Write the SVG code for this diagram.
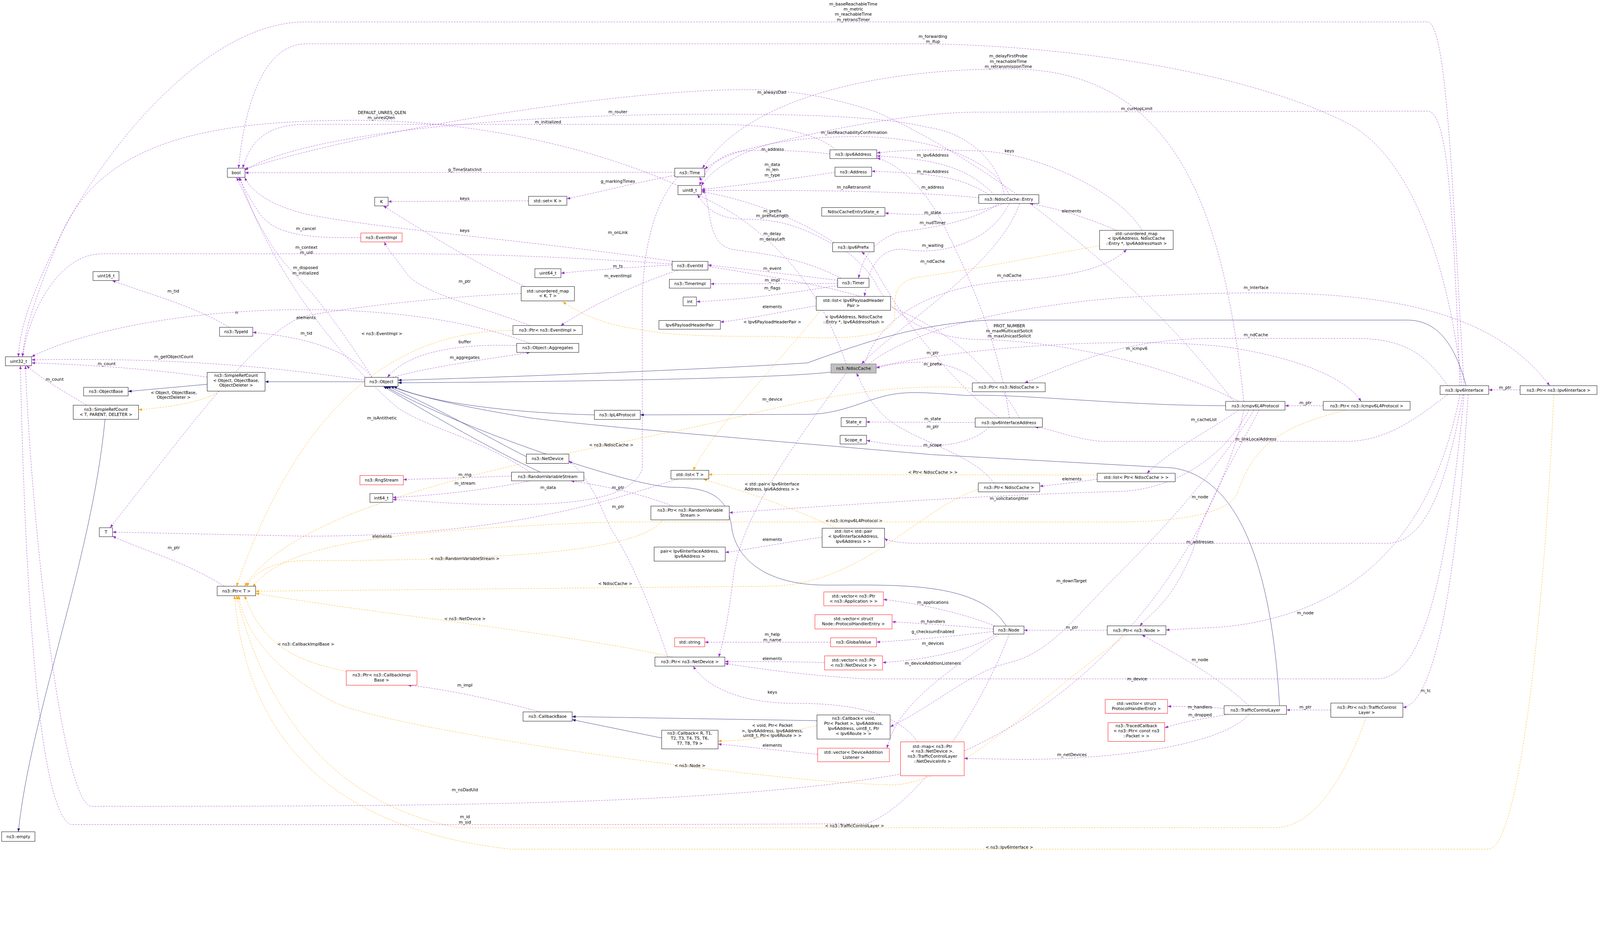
<svg xmlns="http://www.w3.org/2000/svg" width="4565" height="2435" viewBox="0 0 4565 2435">
<defs>
<style>
.n rect{fill:#fff;stroke:#000;stroke-width:0.35}
.n.r rect{stroke:#ff0000}
.n.g rect{fill:#bfbfbf;stroke:#666}
text{font-family:"DejaVu Sans","Liberation Sans",sans-serif;font-size:4.1px;fill:#000;text-anchor:middle}
.e path{fill:none;stroke-width:0.3}
.p{stroke:#9a32cd;stroke-dasharray:1.6,1.1;marker-end:url(#ap)}
.o{stroke:#ffa500;stroke-dasharray:1.6,1.1;marker-end:url(#ao)}
.i{stroke:#191970;marker-end:url(#ai)}
</style>
<marker id="ap" viewBox="0 0 10 10" refX="10" refY="5" markerUnits="userSpaceOnUse" markerWidth="3.4" markerHeight="2.6" orient="auto" preserveAspectRatio="none"><path d="M0,0L10,5L0,10z" fill="#9a32cd"/></marker>
<marker id="ao" viewBox="0 0 10 10" refX="10" refY="5" markerUnits="userSpaceOnUse" markerWidth="3.4" markerHeight="2.6" orient="auto" preserveAspectRatio="none"><path d="M0,0L10,5L0,10z" fill="#ffa500"/></marker>
<marker id="ai" viewBox="0 0 10 10" refX="10" refY="5" markerUnits="userSpaceOnUse" markerWidth="3.4" markerHeight="2.6" orient="auto" preserveAspectRatio="none"><path d="M0,0L10,5L0,10z" fill="#191970"/></marker>
</defs>
<rect width="4565" height="2435" fill="#fff"/>
<g transform="scale(2.61)">
<g id="connectors" class="e">
<path class="i" d="M357.8,374.5L260,374.5"/>
<path class="i" d="M203.2,377L125.7,384"/>
<path class="i" d="M103,411.4C90,550 30,700 18,816"/>
<path class="i" d="M815,365C760,372 500,375 390.4,375.5"/>
<path class="i" d="M1438,378.4C1425,330 1405,314 1380,314L970,314C900,318 850,335 792,356C700,362 500,370 390.4,373"/>
<path class="i" d="M583,407C500,405 420,395 386,379"/>
<path class="i" d="M1202.2,398C1100,398 1000,386 948,388C920,386 900,384 881,386C850,390 830,406 792,406.5L628,407"/>
<path class="i" d="M516.3,448C480,430 430,400 380,379"/>
<path class="i" d="M530,463.2C480,440 420,405 376,379"/>
<path class="i" d="M987,614.2C960,570 880,574 810,574C760,574 725,555 718,520C715,490 700,478 660,478C620,478 450,420 378,379"/>
<path class="i" d="M1255,692.3C1250,600 1230,470 1150,459L914,446C800,436 600,420 520,410C460,400 420,392 383,379"/>
<path class="i" d="M801.3,707L561.2,703"/>
<path class="i" d="M649,724L561.2,706"/>
<path class="o" d="M215,383.7C200,395 160,400 135.9,402"/>
<path class="o" d="M503.1,324C400,325 300,380 232,575.1"/>
<path class="o" d="M1078.5,241C1000,255 950,265 900,272C870,278 880,300 877,315C870,335 800,332 760,330C700,330 660,330 620,322C590,318 565,305 552,296"/>
<path class="o" d="M805,304.4C760,360 700,420 680,461.4"/>
<path class="o" d="M1076.2,466L695.2,465.5"/>
<path class="o" d="M820,518.2C760,490 720,480 690,469.9"/>
<path class="o" d="M953.7,381C880,375 800,390 720,410C600,440 300,480 240,575.1"/>
<path class="o" d="M959.5,480C900,500 850,570 760,575L250.8,580"/>
<path class="o" d="M650,510C630,540 500,550 300,550C270,550 250,560 242,575.1"/>
<path class="o" d="M1320,402.3C1250,420 1230,440 1215,480C1210,505 1150,512 1100,512L600,512C400,520 280,530 248,576"/>
<path class="o" d="M660,644.6C550,620 350,600 250.8,582"/>
<path class="o" d="M345,660C300,650 260,640 240,584.4"/>
<path class="o" d="M1105,622.7C1000,700 950,760 880,770C780,770 400,720 330,690C270,660 240,620 234,584.4"/>
<path class="o" d="M1340,703.7C1320,760 1290,812 1250,812L450,812C330,790 260,700 232,584.4"/>
<path class="o" d="M1524,387C1515,600 1490,833 1460,833L500,833C300,810 240,700 230,584.4"/>
<path class="o" d="M801.3,712C760,720 740,727 704.3,727"/>
<path class="p" d="M1436,378.4C1425,200 1420,21.5 1400,21.5L300,21.5C200,21.5 100,150 60,230C30,290 20,320 18,350"/>
<path class="p" d="M1434,378.4C1420,250 1380,150 1320,120C1200,60 1000,43 900,43L300,43C260,43 240,100 234,165"/>
<path class="p" d="M1220,393.8C1200,200 1150,67.6 990,67.6C850,67.6 730,100 689,165"/>
<path class="p" d="M1210,393.8C1100,250 950,150 860,110C800,90 760,88 730,88C600,88 350,130 240,166"/>
<path class="p" d="M985,191C980,160 950,130 910,125C870,115 800,112 700,112C500,112 300,130 240,167"/>
<path class="p" d="M820,147C800,130 760,122 700,122L300,122C260,122 245,140 238,165"/>
<path class="p" d="M830,357C810,300 780,250 720,210C600,140 450,118 350,118C200,118 100,140 60,230C35,290 25,320 22,350"/>
<path class="p" d="M1432,378.4C1425,200 1420,109 1400,109L960,110C900,110 820,125 760,140C720,150 695,170 688,182"/>
<path class="p" d="M990,191C970,150 900,134 840,134C760,134 710,150 691.2,166"/>
<path class="p" d="M814,151C790,148 760,147 730,148C705,150 693,165 686,182"/>
<path class="p" d="M1120,226C1100,190 1020,150 960,148C900,146 880,148 860,150"/>
<path class="p" d="M975,191C950,165 920,156 860,153"/>
<path class="p" d="M970,191C945,175 920,170 855,168"/>
<path class="p" d="M819,169C780,175 740,180 688,186"/>
<path class="p" d="M960,194C900,188 800,186 688,187"/>
<path class="p" d="M990,410C980,330 940,250 930,230C910,185 880,160 860,155"/>
<path class="p" d="M985,199.6C960,210 900,212 868,209"/>
<path class="p" d="M1095,226C1070,215 1040,205 1010,199.6"/>
<path class="p" d="M980,199.6C950,220 900,225 880,228C850,240 845,260 842,273"/>
<path class="p" d="M990,199.6C970,240 920,250 890,245C860,240 850,270 848,290.8"/>
<path class="p" d="M1000,199.6C980,260 880,320 845,357"/>
<path class="p" d="M848,357C860,320 900,280 1000,275C1060,270 1090,260 1105,244.8"/>
<path class="p" d="M818,240C790,225 770,215 730,215C700,215 690,200 684,191"/>
<path class="p" d="M825,273C790,255 760,250 720,245C690,240 700,200 686,173.5"/>
<path class="p" d="M822,275C780,270 740,265 694.4,260"/>
<path class="p" d="M821.6,278L697,278.5"/>
<path class="p" d="M822,280C780,287 730,294 683.1,296"/>
<path class="p" d="M800.6,300C770,305 740,312 706.6,316"/>
<path class="p" d="M980,410C940,380 900,330 880,300C860,270 855,255 845,247"/>
<path class="p" d="M960,375.6C940,355 900,350 859.4,361"/>
<path class="p" d="M956.5,414.5L849.6,414"/>
<path class="p" d="M970,419C950,440 900,442 850,432"/>
<path class="p" d="M975,473.8C950,440 880,430 860,400C850,390 845,375 840,366"/>
<path class="p" d="M830,366C790,420 730,500 720,560C715,600 712,620 705,644.6"/>
<path class="p" d="M859.4,360C950,340 1100,330 1200,340C1270,350 1320,370 1335,393.8"/>
<path class="p" d="M1420,378.4C1400,350 1380,332 1330,332L1180,332C1100,335 1070,350 1005,375.6"/>
<path class="p" d="M852,357C900,320 1000,300 1100,292C1300,280 1450,285 1520,378.4"/>
<path class="p" d="M1491,382.5L1460.2,382.5"/>
<path class="p" d="M1297.9,398L1260.4,398"/>
<path class="p" d="M1215,402.3C1190,420 1150,440 1125,464.3"/>
<path class="p" d="M1076.2,470C1050,474 1030,476 1019.8,477"/>
<path class="p" d="M1225,402.3C1200,450 1150,480 1100,482C1000,485 900,490 715.3,503"/>
<path class="p" d="M1235,402.3C1210,450 1180,500 1170,540C1150,590 1130,600 1118,614"/>
<path class="p" d="M1230,402.3C1200,450 1160,500 1100,560C1050,610 1030,640 990,650C950,660 920,690 873.1,713"/>
<path class="p" d="M1435,387C1420,470 1400,533 1360,533L900,533C880,533 870,530 867.6,528"/>
<path class="p" d="M806.4,527C770,532 740,538 711.4,542"/>
<path class="p" d="M1420,387C1390,410 1360,433 1320,433L1080,433C1050,430 1030,420 1015,419"/>
<path class="p" d="M1432,387C1410,500 1350,600 1200,615L1143.6,618"/>
<path class="p" d="M1225,692.3C1190,660 1150,640 1120,622.7"/>
<path class="p" d="M1436,387C1420,550 1400,666 1350,666L850,666C780,662 740,655 711,651"/>
<path class="p" d="M1440,387C1430,550 1410,690 1376,694"/>
<path class="p" d="M1305.3,696.5L1261.9,696.5"/>
<path class="p" d="M1200.7,695C1180,693 1160,693 1145.2,693"/>
<path class="p" d="M1205,700.8C1180,705 1160,708 1142.4,714"/>
<path class="p" d="M1225,700.8C1200,730 1100,745 1000,745L945.7,744"/>
<path class="p" d="M1086,618.3L1004.4,618.3"/>
<path class="p" d="M976,614.2C940,600 900,592 866.4,588"/>
<path class="p" d="M974.4,617C940,614 910,612 875,610"/>
<path class="p" d="M974.4,619.5C930,625 890,628 859.7,630"/>
<path class="p" d="M977,622C950,640 900,648 865.6,650"/>
<path class="p" d="M980,622C930,660 880,690 870,734"/>
<path class="p" d="M814.7,630L691.3,630"/>
<path class="p" d="M808.8,650C780,649 740,649 711,649"/>
<path class="p" d="M802,740C770,737 730,732 704.3,730"/>
<path class="p" d="M900,727.8C880,700 840,690 780,690C720,690 690,670 680,653.5"/>
<path class="p" d="M530,698.4C480,685 430,675 400,672.2"/>
<path class="p" d="M990,622C960,700 900,790 850,808C700,809 500,809 70,809C40,800 25,600 20,358.8"/>
<path class="p" d="M1220,402.3C1200,500 1100,700 880,760C700,791 400,791 90,791C60,791 30,500 25,358.8"/>
<path class="p" d="M220,575.1C180,550 140,540 110.4,526"/>
<path class="p" d="M665,469.9C600,490 500,526 300,526L110.4,522"/>
<path class="p" d="M660,496.5C630,485 600,478 560,471.7"/>
<path class="p" d="M655,644.6C640,600 620,550 600,520C590,500 580,470 558,452"/>
<path class="p" d="M501.7,467L395.6,470.5"/>
<path class="p" d="M520,471.7C480,480 430,486 385.3,488"/>
<path class="p" d="M665,173.5C640,200 630,250 630,300L630,460C620,490 560,495 500,495C450,495 420,492 385.3,490"/>
<path class="p" d="M520,463.2C470,430 420,420 390,400C320,340 260,250 235,174"/>
<path class="p" d="M365,370.2C340,330 310,290 290,270C260,240 245,200 232,174"/>
<path class="p" d="M365,370.2C340,340 290,330 247.9,326"/>
<path class="p" d="M225,321.1C190,300 150,290 110,275.2"/>
<path class="p" d="M357.8,373C300,365 200,350 31,353"/>
<path class="p" d="M203.2,370C150,362 90,358 31,356"/>
<path class="p" d="M85,397.5C65,385 45,375 26,358.8"/>
<path class="p" d="M385,370.2C420,360 480,352 520,345.7"/>
<path class="p" d="M506.8,339C450,337 400,345 380,370.2"/>
<path class="p" d="M520,336.9C450,310 350,300 250,305C150,310 70,330 31,350"/>
<path class="p" d="M515,281.1C470,260 420,230 376,202"/>
<path class="p" d="M511.2,288C450,290 350,300 300,310C260,320 200,400 108,517.7"/>
<path class="p" d="M518.4,197L380.7,197.7"/>
<path class="p" d="M661.8,172C620,180 590,188 556,195"/>
<path class="p" d="M661.8,169L240.3,169.5"/>
<path class="p" d="M520,319.4C470,300 420,290 400,270C390,255 380,245 377,237.3"/>
<path class="p" d="M353.9,233C300,234 270,230 255,210C245,195 240,185 234,174"/>
<path class="p" d="M659.3,259C600,255 500,249 400,249L100,249C60,249 30,300 22,350"/>
<path class="p" d="M659.3,260C620,262 580,265 550.2,268"/>
<path class="p" d="M665,265C620,280 580,300 550,319.4"/>
<path class="p" d="M1000,410C960,340 900,300 800,280C600,240 400,230 300,210C260,200 245,185 240,174"/>
<path class="p" d="M1215,393.8C1150,360 1050,335 960,333C900,332 870,300 860,280C840,240 760,200 688,188"/>
</g>
<g id="labels">
<text x="837" y="5.5">m_baseReachableTime</text><text x="837" y="10.5">m_metric</text><text x="837" y="15.5">m_reachableTime</text><text x="837" y="20.5">m_retransTimer</text>
<text x="915" y="37">m_forwarding</text><text x="915" y="42">m_ifup</text>
<text x="989" y="56.5">m_delayFirstProbe</text><text x="989" y="61.5">m_reachableTime</text><text x="989" y="66.5">m_retransmissionTime</text>
<text x="757" y="92">m_alwaysDad</text>
<text x="1115" y="108">m_curHopLimit</text>
<text x="606" y="111.3">m_router</text>
<text x="374.5" y="112">DEFAULT_UNRES_QLEN</text><text x="374" y="117">m_unresQlen</text>
<text x="537.5" y="121">m_initialized</text>
<text x="837.7" y="131.4">m_lastReachabilityConfirmation</text>
<text x="757.8" y="147.8">m_address</text>
<text x="990" y="149.4">keys</text>
<text x="914.8" y="153.7">m_ipv6Address</text>
<text x="757.5" y="162.9">m_data</text><text x="757.5" y="167.7">m_len</text><text x="757.5" y="173">m_type</text>
<text x="456" y="167.9">g_TimeStaticInit</text>
<text x="914.8" y="169.9">m_macAddress</text>
<text x="606" y="179.4">g_markingTimes</text>
<text x="837.4" y="185.2">m_nsRetransmit</text>
<text x="914.8" y="185">m_address</text>
<text x="455.8" y="196.1">keys</text>
<text x="1051" y="208.3">elements</text>
<text x="914.8" y="210">m_state</text>
<text x="757.5" y="208.3">m_prefix</text><text x="757.5" y="213.1">m_prefixLength</text>
<text x="914.8" y="220.1">m_nudTimer</text>
<text x="300" y="225.6">m_cancel</text>
<text x="455.8" y="227.7">keys</text>
<text x="606" y="229.4">m_onLink</text>
<text x="757.5" y="230.6">m_delay</text><text x="757.5" y="235.9">m_delayLeft</text>
<text x="914.8" y="242">m_waiting</text>
<text x="300.5" y="244.2">m_context</text><text x="300.5" y="248.9">m_uid</text>
<text x="914.8" y="257.8">m_ndCache</text>
<text x="606" y="262.4">m_ts</text>
<text x="299.7" y="264">m_disposed</text><text x="299.7" y="269.2">m_initialized</text>
<text x="757.5" y="264.8">m_event</text>
<text x="990" y="271.6">m_ndCache</text>
<text x="606" y="272">m_eventImpl</text>
<text x="757.5" y="276.4">m_impl</text>
<text x="455.8" y="277.3">m_ptr</text>
<text x="1232" y="283.4">m_interface</text>
<text x="757.5" y="283.8">m_flags</text>
<text x="170" y="287.1">m_tid</text>
<text x="757.5" y="302.4">elements</text>
<text x="232.1" y="308">n</text>
<text x="837.4" y="312.1">&lt; Ipv6Address, NdiscCache</text><text x="837.4" y="317.1">::Entry *, Ipv6AddressHash &gt;</text>
<text x="300.2" y="313.2">elements</text>
<text x="757.5" y="317.4">&lt; Ipv6PayloadHeaderPair &gt;</text>
<text x="990" y="320.9">PROT_NUMBER</text><text x="990" y="325.9">m_maxMulticastSolicit</text><text x="990" y="330.9">m_maxUnicastSolicit</text>
<text x="300.5" y="328.4">m_tid</text>
<text x="374.5" y="328.7">&lt; ns3::EventImpl &gt;</text>
<text x="1231.8" y="329.7">m_ndCache</text>
<text x="455.8" y="336.7">buffer</text>
<text x="1115" y="343.4">m_icmpv6</text>
<text x="914.8" y="347.6">m_ptr</text>
<text x="170.4" y="351.3">m_getObjectCount</text>
<text x="455.8" y="352.1">m_aggregates</text>
<text x="914.8" y="358.6">m_prefix</text>
<text x="104.6" y="358.3">m_count</text>
<text x="53.6" y="373.4">m_count</text>
<text x="170.4" y="386.4">&lt; Object, ObjectBase,</text><text x="170.4" y="391.2">ObjectDeleter &gt;</text>
<text x="1476.3" y="381.5">m_ptr</text>
<text x="757.5" y="393.2">m_device</text>
<text x="1280.5" y="396.6">m_ptr</text>
<text x="374.6" y="411.4">m_isAntithetic</text>
<text x="914.8" y="412.4">m_state</text>
<text x="1180.8" y="413.1">m_cacheList</text>
<text x="914.8" y="419.9">m_ptr</text>
<text x="1231.8" y="432.2">m_linkLocalAddress</text>
<text x="599.5" y="437.8">&lt; ns3::NdiscCache &gt;</text>
<text x="914.8" y="437.9">m_scope</text>
<text x="915" y="464.6">&lt; Ptr&lt; NdiscCache &gt; &gt;</text>
<text x="456" y="467.2">m_rng</text>
<text x="1051.3" y="471.1">elements</text>
<text x="456" y="475.4">m_stream</text>
<text x="757.1" y="476.4">&lt; std::pair&lt; Ipv6Interface</text><text x="757.1" y="481.1">Address, Ipv6Address &gt; &gt;</text>
<text x="537.6" y="479.6">m_data</text>
<text x="606.2" y="479.6">m_ptr</text>
<text x="1177" y="488.8">m_node</text>
<text x="989.8" y="490.4">m_solicitationJitter</text>
<text x="606.2" y="498.4">m_ptr</text>
<text x="837.6" y="512.1">&lt; ns3::Icmpv6L4Protocol &gt;</text>
<text x="374.7" y="527.4">elements</text>
<text x="757.5" y="530.6">elements</text>
<text x="1177" y="533">m_addresses</text>
<text x="170.4" y="538.8">m_ptr</text>
<text x="456" y="549.5">&lt; ns3::RandomVariableStream &gt;</text>
<text x="1051" y="571.4">m_downTarget</text>
<text x="603.4" y="573.9">&lt; NdiscCache &gt;</text>
<text x="915" y="592.4">m_applications</text>
<text x="1280.3" y="602.8">m_node</text>
<text x="456" y="608.4">&lt; ns3::NetDevice &gt;</text>
<text x="915" y="611.1">m_handlers</text>
<text x="1051.4" y="617">m_ptr</text>
<text x="915" y="620.9">g_checksumEnabled</text>
<text x="757.5" y="623.7">m_help</text><text x="757.5" y="629">m_name</text>
<text x="915" y="632.4">m_devices</text>
<text x="300" y="633.4">&lt; ns3::CallbackImplBase &gt;</text>
<text x="757.5" y="647.4">elements</text>
<text x="1177" y="648.8">m_node</text>
<text x="915" y="652.1">m_deviceAdditionListeners</text>
<text x="1115.3" y="667.4">m_device</text>
<text x="456" y="673.6">m_impl</text>
<text x="1398.4" y="679.1">m_tc</text>
<text x="757.5" y="680.4">keys</text>
<text x="1177" y="694.9">m_handlers</text>
<text x="1280.5" y="695.1">m_ptr</text>
<text x="1177" y="702.6">m_dropped</text>
<text x="757.5" y="713">&lt; void, Ptr&lt; Packet</text><text x="757.5" y="718.2">&gt;, Ipv6Address, Ipv6Address,</text><text x="757.5" y="722.9">uint8_t, Ptr&lt; Ipv6Route &gt; &gt;</text>
<text x="757.5" y="732.6">elements</text>
<text x="1051.4" y="741.8">m_netDevices</text>
<text x="676.7" y="752.3">&lt; ns3::Node &gt;</text>
<text x="456" y="776.4">m_nsDadUid</text>
<text x="456" y="802.7">m_id</text><text x="456" y="807.9">m_sid</text>
<text x="838.2" y="811.6">&lt; ns3::TrafficControlLayer &gt;</text>
<text x="990" y="832.7">&lt; ns3::Ipv6Interface &gt;</text>
</g>
<g id="bool" class="n"><rect x="223" y="165" width="17.3" height="9"/><text x="231.6" y="171">bool</text></g>
<g id="K" class="n"><rect x="367.5" y="193.5" width="13.2" height="8.5"/><text x="374.1" y="199.2">K</text></g>
<g id="EventImpl" class="n r"><rect x="353.9" y="228.6" width="40.5" height="8.7"/><text x="374.1" y="234.4">ns3::EventImpl</text></g>
<g id="uint16_t" class="n"><rect x="91.2" y="266.4" width="25.5" height="8.8"/><text x="104" y="272.2">uint16_t</text></g>
<g id="TypeId" class="n"><rect x="215.3" y="321.1" width="32.6" height="8.8"/><text x="231.6" y="326.9">ns3::TypeId</text></g>
<g id="uint32_t" class="n"><rect x="5.3" y="350" width="25.7" height="8.8"/><text x="18.2" y="355.8">uint32_t</text></g>
<g id="SimpleRefCountObject" class="n"><rect x="203.2" y="365.3" width="56.8" height="18.4"/><text x="231.6" y="369.7">ns3::SimpleRefCount</text><text x="231.6" y="374.6">&lt; Object, ObjectBase,</text><text x="231.6" y="379.5">ObjectDeleter &gt;</text></g>
<g id="ObjectBase" class="n"><rect x="82" y="380" width="43.7" height="8.4"/><text x="103.9" y="385.6">ns3::ObjectBase</text></g>
<g id="SimpleRefCountT" class="n"><rect x="71.8" y="397.5" width="64.1" height="13.9"/><text x="103.9" y="403">ns3::SimpleRefCount</text><text x="103.9" y="407.9">&lt; T, PARENT, DELETER &gt;</text></g>
<g id="Object" class="n"><rect x="357.8" y="370.2" width="32.6" height="8.8"/><text x="374.1" y="376">ns3::Object</text></g>
<g id="empty" class="n"><rect x="1.6" y="816" width="32.7" height="9.4"/><text x="18" y="822.1">ns3::empty</text></g>
<g id="T" class="n"><rect x="97.4" y="517.7" width="13" height="8.8"/><text x="103.9" y="523.5">T</text></g>
<g id="PtrT" class="n"><rect x="213" y="575.1" width="37.8" height="9.3"/><text x="231.9" y="581.2">ns3::Ptr&lt; T &gt;</text></g>
<g id="PtrCallbackImplBase" class="n r"><rect x="339.6" y="658" width="69.4" height="14.2"/><text x="374.3" y="663.7">ns3::Ptr&lt; ns3::CallbackImpl</text><text x="374.3" y="668.6">Base &gt;</text></g>
<g id="CallbackBase" class="n"><rect x="513" y="698.4" width="48.2" height="9.1"/><text x="537.1" y="704.4">ns3::CallbackBase</text></g>
<g id="NetDevice" class="n"><rect x="516.3" y="445.5" width="41.7" height="9.1"/><text x="537.1" y="451.5">ns3::NetDevice</text></g>
<g id="RandomVariableStream" class="n"><rect x="501.7" y="463.2" width="71" height="8.5"/><text x="537.2" y="468.9">ns3::RandomVariableStream</text></g>
<g id="RngStream" class="n r"><rect x="353" y="466.5" width="42.6" height="9.1"/><text x="374.3" y="472.5">ns3::RngStream</text></g>
<g id="int64_t" class="n"><rect x="362.8" y="484.2" width="22.5" height="8.6"/><text x="374" y="490">int64_t</text></g>
<g id="setK" class="n"><rect x="518.4" y="192.6" width="37.6" height="8.8"/><text x="537.2" y="198.4">std::set&lt; K &gt;</text></g>
<g id="uint64_t" class="n"><rect x="524.6" y="263.6" width="25.6" height="8.8"/><text x="537.4" y="269.4">uint64_t</text></g>
<g id="umapKT" class="n"><rect x="511.2" y="281.1" width="52.2" height="14.1"/><text x="537.3" y="286.8">std::unordered_map</text><text x="537.3" y="291.7">&lt; K, T &gt;</text></g>
<g id="PtrEventImpl" class="n"><rect x="503.1" y="319.4" width="68.1" height="8.7"/><text x="537.1" y="325.2">ns3::Ptr&lt; ns3::EventImpl &gt;</text></g>
<g id="Aggregates" class="n"><rect x="506.8" y="336.9" width="60.9" height="8.8"/><text x="537.2" y="342.7">ns3::Object::Aggregates</text></g>
<g id="Time" class="n"><rect x="661.8" y="165" width="29.4" height="8.5"/><text x="676.5" y="170.7">ns3::Time</text></g>
<g id="uint8_t" class="n"><rect x="665" y="182" width="23" height="9"/><text x="676.5" y="188">uint8_t</text></g>
<g id="Ipv6Address" class="n"><rect x="814" y="147" width="46" height="8.6"/><text x="837" y="152.8">ns3::Ipv6Address</text></g>
<g id="Address" class="n"><rect x="819" y="164" width="36" height="9"/><text x="837" y="170">ns3::Address</text></g>
<g id="NdiscCacheEntry" class="n"><rect x="960" y="191" width="59" height="8.6"/><text x="989.5" y="196.8">ns3::NdiscCache::Entry</text></g>
<g id="NdiscCacheEntryState_e" class="n"><rect x="806" y="203.6" width="62" height="8.4"/><text x="837" y="209.3">NdiscCacheEntryState_e</text></g>
<g id="umapIpv6" class="n"><rect x="1078.5" y="226" width="72.2" height="18.8"/><text x="1114.6" y="230.5">std::unordered_map</text><text x="1114.6" y="235.4">&lt; Ipv6Address, NdiscCache</text><text x="1114.6" y="240.3">::Entry *, Ipv6AddressHash &gt;</text></g>
<g id="Ipv6Prefix" class="n"><rect x="816.7" y="238" width="40.6" height="9"/><text x="837" y="244">ns3::Ipv6Prefix</text></g>
<g id="EventId" class="n"><rect x="659.3" y="256.4" width="35.1" height="8.6"/><text x="676.9" y="262.2">ns3::EventId</text></g>
<g id="TimerImpl" class="n"><rect x="656.5" y="274" width="40.5" height="8.7"/><text x="676.8" y="279.8">ns3::TimerImpl</text></g>
<g id="Timer" class="n"><rect x="821.6" y="273" width="30.8" height="9"/><text x="837" y="279">ns3::Timer</text></g>
<g id="int" class="n"><rect x="670" y="291.4" width="13.1" height="8.6"/><text x="676.5" y="297.2">int</text></g>
<g id="listIPHP" class="n"><rect x="800.6" y="290.8" width="72.9" height="13.6"/><text x="837" y="296.3">std::list&lt; Ipv6PayloadHeader</text><text x="837" y="301.2">Pair &gt;</text></g>
<g id="Ipv6PayloadHeaderPair" class="n"><rect x="646.3" y="314.4" width="60.3" height="8.6"/><text x="676.5" y="320.2">Ipv6PayloadHeaderPair</text></g>
<g id="NdiscCache" class="n g"><rect x="815" y="357" width="44.4" height="9"/><text x="837.2" y="363">ns3::NdiscCache</text></g>
<g id="PtrNs3NdiscCache" class="n"><rect x="953.7" y="375.6" width="71.5" height="8.7"/><text x="989.5" y="381.4">ns3::Ptr&lt; ns3::NdiscCache &gt;</text></g>
<g id="Ipv6InterfaceAddress" class="n"><rect x="956.5" y="410" width="65.9" height="9"/><text x="989.5" y="416">ns3::Ipv6InterfaceAddress</text></g>
<g id="State_e" class="n"><rect x="825" y="409.7" width="24.6" height="8.8"/><text x="837.3" y="415.5">State_e</text></g>
<g id="Scope_e" class="n"><rect x="824" y="427" width="26" height="8.6"/><text x="837" y="432.8">Scope_e</text></g>
<g id="IpL4Protocol" class="n"><rect x="583" y="402.5" width="45" height="9"/><text x="605.5" y="408.5">ns3::IpL4Protocol</text></g>
<g id="listT" class="n"><rect x="658.1" y="461.4" width="37.1" height="8.5"/><text x="676.7" y="467.1">std::list&lt; T &gt;</text></g>
<g id="listPtrNdiscCache" class="n"><rect x="1076.2" y="464.3" width="76.5" height="8.3"/><text x="1114.5" y="469.9">std::list&lt; Ptr&lt; NdiscCache &gt; &gt;</text></g>
<g id="PtrNdiscCache" class="n"><rect x="959.5" y="473.8" width="60.3" height="8.7"/><text x="989.7" y="479.6">ns3::Ptr&lt; NdiscCache &gt;</text></g>
<g id="PtrRVS" class="n"><rect x="638.4" y="496.5" width="76.9" height="13.5"/><text x="676.9" y="502">ns3::Ptr&lt; ns3::RandomVariable</text><text x="676.9" y="506.9">Stream &gt;</text></g>
<g id="listPair" class="n"><rect x="806.4" y="518.2" width="61.2" height="18.8"/><text x="837" y="522.7">std::list&lt; std::pair</text><text x="837" y="527.6">&lt; Ipv6InterfaceAddress,</text><text x="837" y="532.5">Ipv6Address &gt; &gt;</text></g>
<g id="pair" class="n"><rect x="641.6" y="536.7" width="69.8" height="13.8"/><text x="676.5" y="542.3">pair&lt; Ipv6InterfaceAddress,</text><text x="676.5" y="547.2">Ipv6Address &gt;</text></g>
<g id="vecApp" class="n r"><rect x="808" y="580.7" width="58.4" height="13.6"/><text x="837.2" y="586.2">std::vector&lt; ns3::Ptr</text><text x="837.2" y="591.1">&lt; ns3::Application &gt; &gt;</text></g>
<g id="vecNodePHE" class="n r"><rect x="799.3" y="603" width="75.7" height="14"/><text x="837.1" y="608.6">std::vector&lt; struct</text><text x="837.1" y="613.5">Node::ProtocolHandlerEntry &gt;</text></g>
<g id="Node" class="n"><rect x="974.4" y="614.2" width="30" height="7.8"/><text x="989.4" y="619.6">ns3::Node</text></g>
<g id="PtrNode" class="n"><rect x="1086" y="614" width="57.6" height="8.7"/><text x="1114.8" y="619.8">ns3::Ptr&lt; ns3::Node &gt;</text></g>
<g id="string" class="n r"><rect x="661.7" y="625.7" width="29.6" height="8.8"/><text x="676.5" y="631.5">std::string</text></g>
<g id="GlobalValue" class="n r"><rect x="814.7" y="625.7" width="45" height="8.8"/><text x="837.2" y="631.5">ns3::GlobalValue</text></g>
<g id="PtrNetDevice" class="n"><rect x="642.4" y="644.6" width="68.6" height="8.9"/><text x="676.7" y="650.5">ns3::Ptr&lt; ns3::NetDevice &gt;</text></g>
<g id="vecNetDevice" class="n r"><rect x="808.8" y="643.4" width="56.8" height="13.8"/><text x="837.2" y="649">std::vector&lt; ns3::Ptr</text><text x="837.2" y="653.9">&lt; ns3::NetDevice &gt; &gt;</text></g>
<g id="CallbackVoid" class="n"><rect x="801.3" y="701.4" width="71.8" height="23.6"/><text x="837.2" y="706.2">ns3::Callback&lt; void,</text><text x="837.2" y="711.1">Ptr&lt; Packet &gt;, Ipv6Address,</text><text x="837.2" y="716">Ipv6Address, uint8_t, Ptr</text><text x="837.2" y="720.9">&lt; Ipv6Route &gt; &gt;</text></g>
<g id="CallbackR" class="n"><rect x="649" y="716.4" width="55.3" height="18.3"/><text x="676.6" y="720.8">ns3::Callback&lt; R, T1,</text><text x="676.6" y="725.7">T2, T3, T4, T5, T6,</text><text x="676.6" y="730.6">T7, T8, T9 &gt;</text></g>
<g id="vecDAL" class="n r"><rect x="802" y="734" width="70.3" height="13.3"/><text x="837.1" y="739.4">std::vector&lt; DeviceAddition</text><text x="837.1" y="744.3">Listener &gt;</text></g>
<g id="mapNetDevice" class="n r"><rect x="883.3" y="727.8" width="62.4" height="33.2"/><text x="914.5" y="733.6">std::map&lt; ns3::Ptr</text><text x="914.5" y="738.5">&lt; ns3::NetDevice &gt;,</text><text x="914.5" y="743.4">ns3::TrafficControlLayer</text><text x="914.5" y="748.3">::NetDeviceInfo &gt;</text></g>
<g id="vecPHE" class="n r"><rect x="1084" y="686.2" width="61.2" height="13.6"/><text x="1114.6" y="691.7">std::vector&lt; struct</text><text x="1114.6" y="696.6">ProtocolHandlerEntry &gt;</text></g>
<g id="TracedCallback" class="n r"><rect x="1086.8" y="708.9" width="55.6" height="18.5"/><text x="1114.6" y="713.4">ns3::TracedCallback</text><text x="1114.6" y="718.3">&lt; ns3::Ptr&lt; const ns3</text><text x="1114.6" y="723.2">::Packet &gt; &gt;</text></g>
<g id="TrafficControlLayer" class="n"><rect x="1200.7" y="692.3" width="61.2" height="8.5"/><text x="1231.3" y="698">ns3::TrafficControlLayer</text></g>
<g id="PtrTCL" class="n"><rect x="1305.3" y="689.7" width="70.7" height="14"/><text x="1340.6" y="695.3">ns3::Ptr&lt; ns3::TrafficControl</text><text x="1340.6" y="700.2">Layer &gt;</text></g>
<g id="Ipv6Interface" class="n"><rect x="1412.5" y="378.4" width="47.7" height="8.6"/><text x="1436.3" y="384.2">ns3::Ipv6Interface</text></g>
<g id="PtrIpv6Interface" class="n"><rect x="1491" y="378.4" width="75.4" height="8.6"/><text x="1528.7" y="384.2">ns3::Ptr&lt; ns3::Ipv6Interface &gt;</text></g>
<g id="Icmpv6L4Protocol" class="n"><rect x="1202.2" y="393.8" width="58.2" height="8.5"/><text x="1231.3" y="399.5">ns3::Icmpv6L4Protocol</text></g>
<g id="PtrIcmpv6" class="n"><rect x="1297.9" y="393.8" width="85.2" height="8.5"/><text x="1340.5" y="399.5">ns3::Ptr&lt; ns3::Icmpv6L4Protocol &gt;</text></g>
</g>
</svg>
